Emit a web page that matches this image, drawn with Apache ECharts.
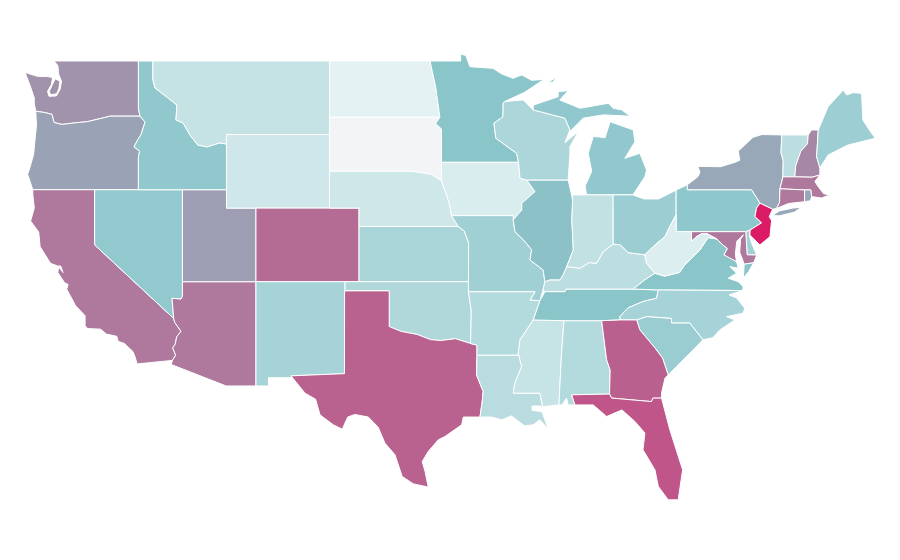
<!DOCTYPE html>
<html>
<head>
<meta charset="utf-8">
<title>US states</title>
<script src="https://cdn.jsdelivr.net/npm/echarts@6/dist/echarts.min.js"></script>
<style>
  html, body { margin: 0; background: #fff; }
  #chart { width: 900px; height: 560px; }
</style>
</head>
<body>
<div id="chart"></div>
<script>
// values, on a 0-150 colour scale
const stateNames = ["Alabama","Arizona","Arkansas","California","Colorado","Connecticut","Delaware","Florida","Georgia","Idaho","Illinois","Indiana","Iowa","Kansas","Kentucky","Louisiana","Maine","Maryland","Massachusetts","Michigan","Minnesota","Mississippi","Missouri","Montana","Nebraska","Nevada","New Hampshire","New Jersey","New Mexico","New York","North Carolina","North Dakota","Ohio","Oklahoma","Oregon","Pennsylvania","Rhode Island","South Carolina","South Dakota","Tennessee","Texas","Utah","Vermont","Virginia","Washington","West Virginia","Wisconsin","Wyoming"];
const stateValues = [78,121,78,121,124.6,121,87,131,128,97,101,70.7,58,83.5,72.9,75.5,90,121,121,97,100,68,88,68.6,63.8,95.7,117,147,85,108,85,51.6,91,79.8,109.4,98,108,91.5,0,100,127.6,110.8,72.9,100,113.8,56.4,81.4,63.3];
const colorStops = ["#f2f4f5", "#e8f4f5", "#8ac5ca", "#e0105f"];

// state outlines, lon,lat pairs (no map ships with echarts)
const outlines = {
  "Washington": [
    "-124.73,48.38 -123.9,48.17 -123.2,48.15 -122.85,48.1 -122.95,47.7 -123.2,47.35 -123.1,47.08 -122.6,47.1 -122.35,47.45 -122.25,47.9 -122.45,48.3 -122.5,48.75 -122.76,49 -117.03,49 -117.03,46.42 -116.92,46 -118.98,46 -119.3,45.93 -120.5,45.7 -121.2,45.65 -122.2,45.55 -122.75,45.65 -122.9,46.1 -123.4,46.2 -124,46.27 -124.1,46.7 -124.1,47 -124.4,47.7",
    "-122.68,48.03 -122.88,47.7 -123.08,47.35 -122.98,47.16 -122.58,47.22 -122.43,47.5 -122.36,47.9"
  ],
  "Oregon": ["-124.2,42 -120,42 -117.03,42 -117.03,43.78 -116.95,44.1 -117.33,44.33 -117.05,44.75 -116.85,45 -116.58,45.68 -116.92,46 -118.98,46 -119.3,45.93 -120.5,45.7 -121.2,45.65 -122.2,45.55 -122.75,45.65 -122.9,46.1 -123.4,46.2 -124,46.27 -123.95,45.5 -124.05,44.7 -124.15,43.9 -124.4,43.2 -124.55,42.84"],
  "California": ["-124.2,42 -120,42 -120,39 -114.63,35 -114.57,34.8 -114.14,34.3 -114.43,34 -114.53,33.6 -114.7,33.4 -114.5,33 -114.72,32.72 -117.12,32.53 -117.25,32.9 -117.4,33.2 -118,33.65 -118.4,33.75 -118.5,34.03 -119.2,34.15 -119.6,34.42 -120.47,34.45 -120.65,34.6 -120.65,35.15 -121.3,35.7 -121.9,36.6 -121.8,36.85 -122.05,36.95 -122.5,37.5 -122.45,37.8 -122.15,37.5 -122.3,37.85 -122.5,37.85 -123,38 -123.7,38.9 -123.8,39.7 -124.35,40.3 -124.1,41 -124.2,41.75"],
  "Nevada": ["-120,42 -114.04,42 -114.04,36.2 -114.15,36.05 -114.75,36.1 -114.63,35 -120,39"],
  "Arizona": ["-114.04,37 -109.05,37 -109.05,31.33 -111.07,31.33 -114.81,32.5 -114.72,32.72 -114.5,33 -114.7,33.4 -114.53,33.6 -114.43,34 -114.14,34.3 -114.57,34.8 -114.63,35 -114.75,36.1 -114.15,36.05 -114.04,36.2"],
  "Utah": ["-114.04,42 -111.05,42 -111.05,41 -109.05,41 -109.05,37 -114.04,37"],
  "Idaho": ["-117.03,49 -116.05,49 -116.05,48 -115.9,47.53 -115.1,47.04 -114.41,46.6 -114.48,45.8 -114,45.63 -113.53,44.98 -113,44.43 -112.37,44.33 -111.5,44.55 -111.05,44.48 -111.05,42 -117.03,42 -117.03,43.78 -116.95,44.1 -117.33,44.33 -117.05,44.75 -116.85,45 -116.58,45.68 -116.92,46 -117.03,46.42"],
  "Montana": ["-116.05,49 -104.05,49 -104.05,45 -111.05,45 -111.05,44.48 -111.5,44.55 -112.37,44.33 -113,44.43 -113.53,44.98 -114,45.63 -114.48,45.8 -114.41,46.6 -115.1,47.04 -115.9,47.53 -116.05,48"],
  "Wyoming": ["-111.05,45 -104.05,45 -104.05,41 -111.05,41"],
  "Colorado": ["-109.05,41 -102.05,41 -102.05,37 -109.05,37"],
  "New Mexico": ["-109.05,37 -103,37 -103.04,32 -106.67,31.88 -106.53,31.78 -108.2,31.78 -108.2,31.33 -109.05,31.33"],
  "North Dakota": ["-104.05,49 -97.23,49 -96.85,47.6 -96.56,45.94 -104.05,45.94"],
  "South Dakota": ["-104.05,45.94 -96.56,45.94 -96.85,45.6 -96.45,45.3 -96.45,43.49 -96.45,42.49 -97.2,42.85 -98.5,43 -104.05,43"],
  "Nebraska": ["-104.05,43 -98.5,43 -97.2,42.85 -96.45,42.49 -96.1,41.7 -95.9,41.2 -95.77,40.59 -95.31,40 -102.05,40 -102.05,41 -104.05,41"],
  "Kansas": ["-102.05,40 -95.31,40 -94.9,39.75 -94.61,39.1 -94.62,37 -102.05,37"],
  "Oklahoma": ["-103,37 -94.62,37 -94.62,36.45 -94.43,35.4 -94.48,33.64 -95.5,33.9 -96.5,33.8 -97.2,33.85 -98.1,34.13 -99.2,34.3 -100,34.56 -100,36.5 -103,36.5"],
  "Texas": ["-103.03,36.5 -100,36.5 -100,34.56 -99.2,34.3 -98.1,34.13 -97.2,33.85 -96.5,33.8 -95.5,33.9 -94.48,33.64 -94.04,33.55 -94.04,33 -94.07,31.93 -93.62,31.03 -93.7,30.4 -93.84,29.64 -94.97,29.64 -95.08,29.22 -96.22,28.58 -96.67,28.4 -97.35,27.77 -97.76,27.22 -97.57,26.68 -97.35,25.83 -98.37,26.01 -99.12,26.41 -99.61,27.59 -100.29,28.22 -100.75,29.09 -101.42,29.64 -102.33,29.78 -102.82,29.64 -103.19,28.98 -103.8,29.22 -104.7,29.76 -105,30.61 -105.72,30.94 -106.67,31.88 -103.04,32"],
  "Minnesota": ["-97.23,49 -95.15,49 -95.15,49.38 -94.8,49.3 -94.52,48.69 -92.95,48.6 -92.37,48.3 -91.6,48.06 -91,48.24 -90.33,47.95 -89.5,48 -90.8,47.3 -92.15,46.8 -92.26,46.7 -92.28,45.97 -92.89,45.61 -92.76,44.8 -91.35,43.98 -91.22,43.49 -96.45,43.49 -96.45,45.3 -96.85,45.6 -96.56,45.94 -96.85,47.6"],
  "Iowa": ["-96.45,43.49 -91.22,43.49 -91.12,42.62 -90.67,42.53 -90.1,41.9 -91,41.27 -91,40.9 -91.58,40.36 -91.58,40.59 -95.77,40.59 -95.9,41.2 -96.1,41.7 -96.45,42.49"],
  "Missouri": ["-95.77,40.59 -91.58,40.59 -91.58,40.36 -91.46,39.72 -90.78,39.18 -90.33,38.73 -90.45,38.18 -89.55,37.64 -89.43,37 -89.56,36.55 -89.77,35.96 -90.45,36 -90.1,36.45 -94.62,36.45 -94.62,37 -94.61,39.1 -94.9,39.75 -95.31,40"],
  "Arkansas": ["-94.62,36.45 -90.1,36.45 -90.45,36 -89.77,35.96 -90.22,34.92 -91.12,33.84 -91.24,33.1 -91.2,33 -94.04,33 -94.04,33.55 -94.48,33.64 -94.43,35.4"],
  "Louisiana": ["-94.04,33 -91.2,33 -91.01,32.39 -91.47,31.48 -91.58,30.94 -89.77,30.94 -89.58,30.2 -89.77,30.24 -90.3,30.24 -90.3,30 -89.65,29.94 -89.55,29.76 -89.2,28.98 -89.77,29.49 -90.23,29.22 -90.8,29.16 -91.7,29.7 -92.37,29.49 -93.05,29.64 -93.84,29.64 -93.7,30.4 -93.62,31.03 -94.07,31.93"],
  "Mississippi": ["-91.2,33 -91.24,33.1 -91.12,33.84 -90.22,34.92 -88.14,34.88 -88.3,33.1 -88.48,30.3 -89.4,30.22 -89.58,30.2 -89.77,30.94 -91.58,30.94 -91.47,31.48 -91.01,32.39"],
  "Alabama": ["-88.14,34.88 -85.58,34.88 -85.24,32.75 -85,32.2 -85.04,30.89 -87.61,30.85 -87.39,30.3 -87.85,30.3 -87.96,30.67 -88.27,30.3 -88.48,30.3 -88.3,33.1"],
  "Tennessee": ["-90.22,34.92 -89.77,35.96 -89.43,36.46 -88.07,36.46 -88,36.6 -83.43,36.6 -81.7,36.55 -81.76,36.46 -81.85,36.1 -82.78,35.92 -83.8,35.57 -84.34,35.1 -84.3,34.92 -85.58,34.88 -88.14,34.88"],
  "Kentucky": ["-89.43,36.46 -89.56,36.55 -89.43,37 -89.09,37.1 -88.41,37.1 -88.2,37.37 -87.95,37.82 -87.05,37.73 -86.42,38.04 -85.92,38 -85.47,38.64 -84.79,39.05 -84.3,39 -83.77,38.58 -82.64,38.46 -82.53,38 -81.96,37.46 -82.64,37.1 -83.43,36.6 -88,36.6 -88.07,36.46"],
  "Illinois": ["-90.67,42.53 -87.85,42.53 -87.6,41.63 -87.55,41.4 -87.6,40.36 -87.5,38.73 -87.95,37.82 -88.2,37.37 -88.41,37.1 -89.09,37.1 -89.43,37 -89.55,37.64 -90.45,38.18 -90.33,38.73 -90.78,39.18 -91.46,39.72 -91.58,40.36 -91,40.9 -91,41.27 -90.1,41.9"],
  "Wisconsin": ["-92.26,46.7 -92.15,46.8 -90.9,46.88 -90.22,46.34 -88.07,45.89 -87.73,45.25 -88.07,44.56 -87.17,45.16 -87.73,44.34 -87.73,43.98 -87.85,42.53 -90.67,42.53 -91.12,42.62 -91.22,43.49 -91.35,43.98 -92.76,44.8 -92.89,45.61 -92.28,45.97"],
  "Michigan": [
    "-90.22,46.6 -88.53,47.06 -88.53,47.33 -87.85,47.39 -88.42,46.88 -87.05,46.43 -85.13,46.7 -84.79,46.43 -84.2,46.34 -83.65,46 -85.47,46.07 -86.83,45.89 -87.73,45.16 -87.73,45.25 -88.07,45.89 -90.22,46.34",
    "-86.6,41.72 -85,41.72 -83.45,41.72 -82.64,42.71 -82.53,43.07 -82.98,43.98 -84,43.71 -83.32,44.61 -83.43,45.25 -85,45.7 -85.35,44.82 -85.7,44.87 -86.15,44.89 -86.49,43.98 -86.25,43 -86.7,42.2",
    "-89.2,47.85 -88.6,48.15 -88.9,47.85"
  ],
  "Indiana": ["-87.55,41.72 -86.6,41.72 -84.8,41.72 -84.79,39.05 -85.47,38.64 -85.92,38 -86.42,38.04 -87.05,37.73 -87.95,37.82 -87.5,38.73 -87.6,40.36 -87.55,41.4"],
  "Ohio": ["-84.8,41.72 -83.45,41.72 -82.7,41.5 -81.7,41.5 -80.52,41.98 -80.52,40.64 -80.95,40 -81.28,39.45 -82.09,38.9 -82.64,38.46 -83.77,38.58 -84.3,39 -84.79,39.05"],
  "Pennsylvania": ["-80.52,41.98 -79.76,42.27 -79.76,42 -75.4,42 -75,41.5 -74.83,41.27 -75.06,41 -75.17,40.54 -74.72,40.2 -75.51,39.8 -75.79,39.72 -80.52,39.72"],
  "New York": [
    "-79.76,42.27 -79.05,42.7 -78.9,42.95 -79.05,43.27 -77.5,43.25 -76.5,43.5 -76.2,43.6 -76.3,44.1 -75.3,44.85 -74.7,45 -73.35,44.98 -73.4,44 -73.25,43.6 -73.27,42.7 -73.47,42.05 -73.5,41.3 -73.7,40.98 -73.97,40.94 -74.83,41.27 -75,41.5 -75.4,42 -79.76,42",
    "-74,40.6 -73.5,40.85 -72.6,41 -72,41.05 -72.5,40.78 -73.5,40.58"
  ],
  "Vermont": ["-73.35,44.98 -71.55,44.98 -71.6,44.5 -72.05,44.1 -72.4,43.3 -72.46,42.7 -73.27,42.7 -73.25,43.6 -73.4,44"],
  "New Hampshire": ["-71.55,44.98 -71.33,45.25 -70.87,45.25 -70.98,43.8 -70.76,43.18 -70.76,42.8 -71.3,42.68 -72.46,42.7 -72.4,43.3 -72.05,44.1 -71.6,44.5"],
  "Maine": ["-70.87,45.25 -70.2,46.52 -69.17,47.42 -68.94,47.15 -68.5,47.28 -67.93,47.24 -67.84,45.79 -67.45,45.3 -67,44.8 -68.86,44.43 -70.2,43.89 -70.76,43.18 -70.98,43.8"],
  "Massachusetts": ["-73.47,42.05 -73.27,42.7 -72.46,42.7 -71.3,42.68 -70.76,42.8 -71.1,42.45 -70.88,42.17 -70.5,41.78 -70.08,41.72 -70.65,41.55 -71.32,41.63 -71.38,41.99 -71.8,41.99"],
  "Connecticut": ["-73.47,42.05 -71.8,41.99 -71.8,41.35 -72.9,41.25 -73.7,40.98 -73.5,41.3"],
  "Rhode Island": ["-71.8,41.99 -71.38,41.99 -71.32,41.63 -71.4,41.4 -71.8,41.35"],
  "New Jersey": ["-74.83,41.27 -73.97,40.94 -74.2,40.54 -74.04,40.32 -74.15,39.45 -74.83,39 -75.51,39.53 -75.51,39.8 -74.72,40.2 -75.17,40.54 -75.06,41"],
  "Delaware": ["-75.79,39.72 -75.51,39.8 -75.55,39.5 -75.4,39.1 -75.05,38.45 -75.7,38.46"],
  "Maryland": ["-79.48,39.72 -75.79,39.72 -75.7,38.46 -75.05,38.45 -75.25,38.03 -75.9,37.95 -76.2,38.6 -76.15,39.3 -75.95,39.55 -76.4,39.2 -76.5,38.5 -76.42,38.09 -77,38.3 -77.28,38.46 -77.05,38.8 -77.5,39.1 -77.75,39.32 -78.4,39.6 -78.8,39.6 -79.1,39.47 -79.48,39.2"],
  "Virginia": [
    "-83.43,36.6 -82.64,37.1 -81.96,37.46 -81.3,37.3 -80.3,37.5 -79.95,37.9 -79.3,38.4 -78.87,38.77 -78.35,39.4 -77.75,39.32 -77.5,39.1 -77.05,38.8 -77.28,38.46 -76.42,38.09 -76.3,37.73 -76.87,37.82 -76.42,37.46 -76.98,37.19 -76.3,37 -75.97,36.73 -76,36.52 -81.7,36.55",
    "-75.25,38.03 -75.9,37.95 -75.95,37.2 -75.6,37.55"
  ],
  "West Virginia": ["-80.52,40.64 -80.52,39.72 -79.48,39.72 -79.48,39.2 -79.1,39.47 -78.8,39.6 -78.4,39.6 -77.75,39.32 -78.35,39.4 -78.87,38.77 -79.3,38.4 -79.95,37.9 -80.3,37.5 -81.3,37.3 -81.96,37.46 -82.53,38 -82.64,38.46 -82.09,38.9 -81.28,39.45 -80.95,40"],
  "North Carolina": ["-84.3,34.92 -84.34,35.1 -83.8,35.57 -82.78,35.92 -81.85,36.1 -81.76,36.46 -81.7,36.55 -76,36.52 -76.93,36.28 -76.42,36.12 -75.86,35.56 -75.97,35.29 -77.09,35.1 -76.53,34.92 -77.55,34.38 -78.03,33.95 -78.7,33.84 -79.6,34.75 -80.83,34.75 -80.83,35 -82.5,35.1 -83.2,34.92"],
  "South Carolina": ["-83.2,34.92 -82.5,35.1 -80.83,35 -80.83,34.75 -79.6,34.75 -78.7,33.84 -79.36,33.3 -80.49,32.39 -81.06,31.93 -81.44,32.84 -81.96,33.4 -82.98,34.38"],
  "Georgia": ["-85.58,34.88 -84.3,34.92 -83.2,34.92 -82.98,34.38 -81.96,33.4 -81.44,32.84 -81.06,31.93 -81.28,31.75 -81.51,30.94 -81.51,30.67 -82.1,30.67 -82.19,30.48 -84.9,30.67 -85.04,30.89 -85,32.2 -85.24,32.75"],
  "Florida": ["-87.61,30.85 -85.04,30.89 -84.9,30.67 -82.19,30.48 -82.1,30.67 -81.51,30.67 -80.95,28.95 -80.08,26.77 -80.38,25.14 -81.06,25.14 -81.73,25.87 -81.96,26.77 -82.77,27.86 -82.64,28.77 -83.32,29.4 -84.2,30.03 -85.24,29.67 -86.15,30.3 -87.39,30.3"]
};

function ring(text) {
  const pts = text.split(" ").map(p => p.split(",").map(Number));
  pts.push(pts[0]);
  return pts;
}

const usa = {
  type: "FeatureCollection",
  features: Object.keys(outlines).map(name => ({
    type: "Feature",
    properties: { name: name },
    geometry: { type: "MultiPolygon", coordinates: outlines[name].map(t => [ring(t)]) }
  }))
};
echarts.registerMap("USA", usa);

const chart = echarts.init(document.getElementById("chart"));
chart.setOption({
  animation: false,
  visualMap: {
    show: false,
    min: 0,
    max: 150,
    inRange: { color: colorStops }
  },
  series: [
    {
      type: "map",
      map: "USA",
      roam: false,
      aspectScale: 0.8,
      boundingCoords: [[-124.73, 49.38], [-66.95, 25.13]],
      left: 25,
      top: 54,
      width: 851,
      height: 446,
      label: { show: false },
      itemStyle: { borderColor: "#fff", borderWidth: 1 },
      data: stateNames.map((name, i) => ({ name: name, value: stateValues[i] }))
    }
  ]
});
</script>
</body>
</html>
